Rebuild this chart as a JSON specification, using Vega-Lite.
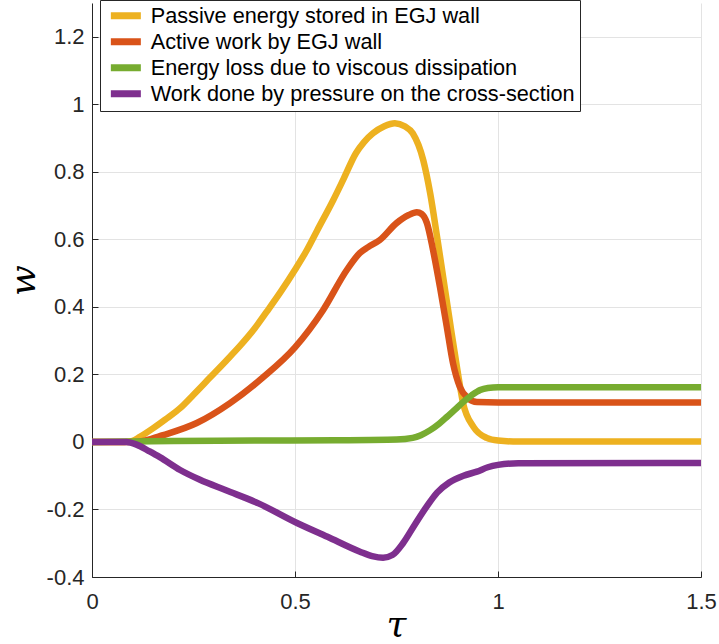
{
  "$schema": "https://vega.github.io/schema/vega-lite/v6.json",
  "width": 609,
  "height": 574,
  "autosize": {"type": "none"},
  "padding": {"left": 92, "top": 3, "right": 18, "bottom": 67},
  "background": "white",
  "config": {
    "view": {"stroke": null},
    "font": "Liberation Sans",
    "axis": {
      "grid": true,
      "gridColor": "#e3e3e3",
      "gridWidth": 1,
      "domainColor": "#262626",
      "domainWidth": 1,
      "tickColor": "#262626",
      "tickSize": -6,
      "labelFont": "Liberation Sans",
      "labelFontSize": 22,
      "labelColor": "#262626",
      "labelFlush": false,
      "titleColor": "#000000",
      "titleFont": "DejaVu Serif",
      "titleFontStyle": "italic",
      "titleFontWeight": "normal"
    }
  },
  "datasets": {
    "curves": [
      {"s": "P", "t": 0, "w": 0}, {"s": "P", "t": 0.08, "w": 0}, {"s": "P", "t": 0.1, "w": 0.003},
      {"s": "P", "t": 0.118, "w": 0.015}, {"s": "P", "t": 0.15, "w": 0.04}, {"s": "P", "t": 0.18, "w": 0.066},
      {"s": "P", "t": 0.217, "w": 0.1}, {"s": "P", "t": 0.25, "w": 0.14}, {"s": "P", "t": 0.29, "w": 0.19},
      {"s": "P", "t": 0.33, "w": 0.24}, {"s": "P", "t": 0.365, "w": 0.285}, {"s": "P", "t": 0.4, "w": 0.335},
      {"s": "P", "t": 0.43, "w": 0.385}, {"s": "P", "t": 0.465, "w": 0.445}, {"s": "P", "t": 0.5, "w": 0.51},
      {"s": "P", "t": 0.53, "w": 0.57}, {"s": "P", "t": 0.554, "w": 0.625},
      {"s": "P", "t": 0.594, "w": 0.716}, {"s": "P", "t": 0.62, "w": 0.78}, {"s": "P", "t": 0.65, "w": 0.855},
      {"s": "P", "t": 0.67, "w": 0.888}, {"s": "P", "t": 0.692, "w": 0.914}, {"s": "P", "t": 0.72, "w": 0.935},
      {"s": "P", "t": 0.746, "w": 0.944}, {"s": "P", "t": 0.77, "w": 0.935}, {"s": "P", "t": 0.79, "w": 0.914},
      {"s": "P", "t": 0.816, "w": 0.834}, {"s": "P", "t": 0.833, "w": 0.736}, {"s": "P", "t": 0.85, "w": 0.607},
      {"s": "P", "t": 0.865, "w": 0.488}, {"s": "P", "t": 0.882, "w": 0.352}, {"s": "P", "t": 0.9, "w": 0.213},
      {"s": "P", "t": 0.914, "w": 0.115}, {"s": "P", "t": 0.94, "w": 0.044}, {"s": "P", "t": 0.972, "w": 0.012},
      {"s": "P", "t": 1.0, "w": 0.004}, {"s": "P", "t": 1.05, "w": 0.001}, {"s": "P", "t": 1.5, "w": 0.001},

      {"s": "A", "t": 0, "w": 0}, {"s": "A", "t": 0.1, "w": 0}, {"s": "A", "t": 0.13, "w": 0.004},
      {"s": "A", "t": 0.175, "w": 0.02}, {"s": "A", "t": 0.258, "w": 0.056}, {"s": "A", "t": 0.34, "w": 0.115},
      {"s": "A", "t": 0.42, "w": 0.19}, {"s": "A", "t": 0.5, "w": 0.28}, {"s": "A", "t": 0.569, "w": 0.39},
      {"s": "A", "t": 0.628, "w": 0.51}, {"s": "A", "t": 0.66, "w": 0.56}, {"s": "A", "t": 0.68, "w": 0.577},
      {"s": "A", "t": 0.709, "w": 0.598}, {"s": "A", "t": 0.75, "w": 0.648}, {"s": "A", "t": 0.78, "w": 0.672},
      {"s": "A", "t": 0.8, "w": 0.68}, {"s": "A", "t": 0.812, "w": 0.675}, {"s": "A", "t": 0.825, "w": 0.648},
      {"s": "A", "t": 0.84, "w": 0.568}, {"s": "A", "t": 0.857, "w": 0.459}, {"s": "A", "t": 0.874, "w": 0.34},
      {"s": "A", "t": 0.889, "w": 0.234}, {"s": "A", "t": 0.906, "w": 0.163}, {"s": "A", "t": 0.926, "w": 0.13},
      {"s": "A", "t": 0.948, "w": 0.118}, {"s": "A", "t": 1.0, "w": 0.117}, {"s": "A", "t": 1.5, "w": 0.117},

      {"s": "V", "t": 0, "w": 0}, {"s": "V", "t": 0.1, "w": 0.001}, {"s": "V", "t": 0.2, "w": 0.003},
      {"s": "V", "t": 0.4, "w": 0.004}, {"s": "V", "t": 0.6, "w": 0.005}, {"s": "V", "t": 0.75, "w": 0.007},
      {"s": "V", "t": 0.79, "w": 0.012}, {"s": "V", "t": 0.81, "w": 0.02}, {"s": "V", "t": 0.833, "w": 0.035},
      {"s": "V", "t": 0.855, "w": 0.054}, {"s": "V", "t": 0.874, "w": 0.074}, {"s": "V", "t": 0.894, "w": 0.096},
      {"s": "V", "t": 0.914, "w": 0.118}, {"s": "V", "t": 0.935, "w": 0.138}, {"s": "V", "t": 0.956, "w": 0.154},
      {"s": "V", "t": 0.975, "w": 0.16}, {"s": "V", "t": 1.0, "w": 0.162}, {"s": "V", "t": 1.5, "w": 0.162},

      {"s": "W", "t": 0, "w": 0}, {"s": "W", "t": 0.085, "w": 0}, {"s": "W", "t": 0.11, "w": -0.008},
      {"s": "W", "t": 0.14, "w": -0.027}, {"s": "W", "t": 0.167, "w": -0.045}, {"s": "W", "t": 0.217, "w": -0.083},
      {"s": "W", "t": 0.266, "w": -0.112}, {"s": "W", "t": 0.33, "w": -0.143}, {"s": "W", "t": 0.41, "w": -0.182},
      {"s": "W", "t": 0.505, "w": -0.24}, {"s": "W", "t": 0.58, "w": -0.281}, {"s": "W", "t": 0.66, "w": -0.325},
      {"s": "W", "t": 0.69, "w": -0.338}, {"s": "W", "t": 0.717, "w": -0.343}, {"s": "W", "t": 0.74, "w": -0.335},
      {"s": "W", "t": 0.766, "w": -0.3}, {"s": "W", "t": 0.795, "w": -0.245}, {"s": "W", "t": 0.825, "w": -0.19},
      {"s": "W", "t": 0.85, "w": -0.15}, {"s": "W", "t": 0.88, "w": -0.12}, {"s": "W", "t": 0.915, "w": -0.1},
      {"s": "W", "t": 0.948, "w": -0.088}, {"s": "W", "t": 0.975, "w": -0.075}, {"s": "W", "t": 1.0, "w": -0.068},
      {"s": "W", "t": 1.05, "w": -0.063}, {"s": "W", "t": 1.5, "w": -0.062}
    ]
  },
  "layer": [
    {
      "data": {"name": "curves"},
      "mark": {"type": "line", "strokeWidth": 6.5, "interpolate": "monotone"},
      "encoding": {
        "x": {
          "field": "t",
          "type": "quantitative",
          "scale": {"domain": [0, 1.5], "nice": false, "zero": false},
          "axis": {
            "values": [0, 0.5, 1, 1.5],
            "labelExpr": "'' + datum.value",
            "labelPadding": 20,
            "title": "τ",
            "titleFontSize": 36,
            "titleX": 304,
            "titleY": 58,
            "titleBaseline": "alphabetic",
            "titleAlign": "center"
          }
        },
        "y": {
          "field": "w",
          "type": "quantitative",
          "scale": {"domain": [-0.4, 1.3], "nice": false, "zero": false},
          "axis": {
            "values": [-0.4, -0.2, 0, 0.2, 0.4, 0.6, 0.8, 1, 1.2],
            "labelExpr": "'' + datum.value",
            "labelPadding": 14,
            "title": "w",
            "titleFontSize": 36,
            "titleX": -58,
            "titleY": 277,
            "titleAngle": -90,
            "titleBaseline": "alphabetic",
            "titleAlign": "center"
          }
        },
        "color": {
          "field": "s",
          "type": "nominal",
          "sort": ["P", "A", "V", "W"],
          "scale": {
            "domain": ["P", "A", "V", "W"],
            "range": ["#EDB120", "#D95319", "#77AC30", "#7E2F8E"]
          },
          "legend": {
            "title": null,
            "orient": "none",
            "legendX": 8,
            "legendY": -3,
            "direction": "vertical",
            "fillColor": "white",
            "strokeColor": "#262626",
            "padding": 5,
            "symbolType": "M-1,0H5",
            "symbolSize": 100,
            "symbolStrokeWidth": 7,
            "labelFont": "Liberation Sans",
            "labelFontSize": 21.7,
            "labelColor": "#000000",
            "labelOffset": 24,
            "labelLimit": 600,
            "clipHeight": 21.7,
            "rowPadding": 3,
            "labelExpr": "datum.value == 'P' ? 'Passive energy stored in EGJ wall' : datum.value == 'A' ? 'Active work by EGJ wall' : datum.value == 'V' ? 'Energy loss due to viscous dissipation' : 'Work done by pressure on the cross-section'"
          }
        }
      }
    },
    {
      "mark": {"type": "rule", "strokeDash": [8, 6], "strokeWidth": 2.5, "color": "black"},
      "encoding": {"y": {"datum": 0}}
    }
  ]
}
